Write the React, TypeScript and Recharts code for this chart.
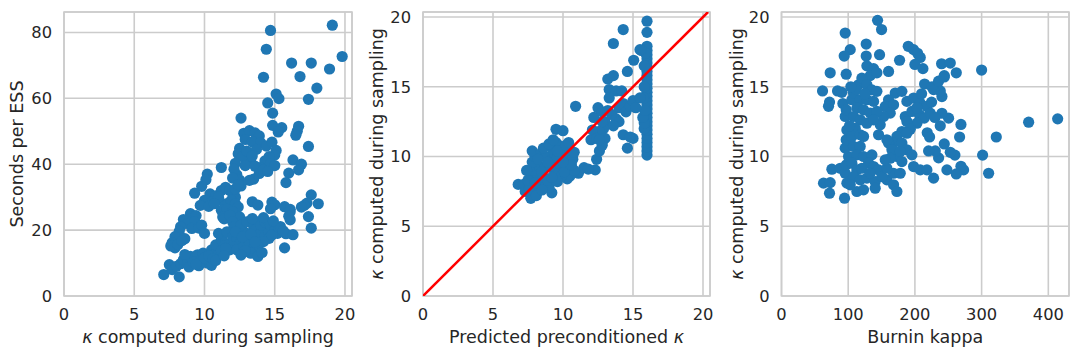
import React from 'react';
import { ScatterChart, Scatter, XAxis, YAxis, CartesianGrid, ReferenceArea, Label } from 'recharts';

// [kappa computed during sampling, seconds per ESS]
const secondsPerEss: [number, number][] = [
  [14.7, 80.6], [19.1, 82.2], [14.4, 74.9], [19.8, 72.7], [16.2, 70.7], [17.6, 70.7], [18.9, 68.9], [14.2, 66.4],
  [16.8, 66.6], [18.0, 63.1], [17.4, 59.7], [15.1, 61.3], [15.3, 59.9], [14.5, 58.6], [14.85, 55.5], [14.85, 51.8],
  [15.5, 51.1], [15.25, 49.8], [12.6, 54], [16.7, 51.5], [16.6, 50], [16.5, 48.8], [17.4, 45.4], [16.3, 41.3],
  [16.9, 40], [16.7, 38.3], [16.0, 37.3], [15.8, 34.4],
  [12.8, 49.4], [13.2, 50.2], [13.6, 49.5], [13.9, 48.6], [12.9, 47.5], [13.4, 46.8], [14.0, 46.5], [14.4, 45.5],
  [14.8, 46.7], [15.1, 44.2], [15.0, 42.8], [14.6, 42.3], [14.3, 41], [14.0, 39], [14.7, 40.2], [15.0, 39.6],
  [13.3, 40.5], [13.0, 41.8], [12.5, 44.8], [12.4, 43.2], [12.7, 42.3], [12.2, 40.3], [12.9, 39.6], [13.6, 39.4],
  [13.9, 37.2], [13.5, 35.5], [13.2, 35.1], [12.3, 36.8], [12.5, 35.2], [12.6, 33.4], [14.2, 38.2], [14.5, 37.8],
  [13.0, 44], [13.7, 44.5], [12.1, 38.5], [12.0, 35.8], [13.4, 42.5],
  [11.2, 39], [10.2, 37], [10.1, 35.3], [9.8, 33.3], [9.3, 31.2],
  [10.4, 31], [10.8, 30.4], [11.2, 32], [11.5, 33], [11.8, 32], [12.0, 31.4], [12.2, 30], [10.0, 29],
  [10.5, 28.5], [11.0, 29.2], [11.5, 28], [11.9, 29], [12.2, 28], [12.4, 27], [9.7, 27.5], [10.3, 27.2],
  [11.2, 26], [11.6, 26.3], [12.0, 25.6], [11.3, 24], [11.4, 23.4], [12.5, 24], [11.8, 24.5], [11.0, 30],
  [10.7, 28], [12.2, 32.5], [12.4, 33.8], [12.0, 22.5], [12.1, 21],
  [9.0, 25], [9.4, 24.4], [8.5, 23.2], [8.8, 22], [9.3, 22.6], [9.1, 20.5], [9.6, 20.6], [10.0, 19],
  [8.3, 21], [8.2, 19.6], [7.9, 18], [7.7, 16.2], [7.6, 15.2], [7.9, 14.6], [8.1, 15.6], [8.6, 17.4],
  [8.4, 16.8], [9.8, 21.5],
  [7.1, 6.5], [7.5, 9.5], [8.2, 5.8], [7.7, 8], [8.0, 9], [8.3, 9.8], [8.5, 11], [8.8, 10],
  [9.0, 12], [9.3, 11.5], [9.5, 12.5], [9.8, 11], [10.2, 10], [10.5, 9.3], [9.6, 9.2], [9.9, 13],
  [10.5, 14], [10.8, 13], [11.0, 12.5], [10.8, 15.5], [11.2, 17], [11.5, 16], [11.3, 18.5], [11.0, 19],
  [11.6, 19.5], [12.0, 18], [12.3, 17], [12.5, 16], [12.0, 15], [11.8, 14], [12.3, 14], [12.8, 15],
  [13.0, 13.5], [13.2, 16], [13.5, 17.5], [12.7, 20], [13.0, 19], [12.6, 21.5], [13.0, 22.5], [13.5, 21],
  [13.8, 22.5], [13.6, 20], [14.0, 19], [14.3, 18], [14.5, 20], [14.0, 21.5], [14.3, 22.5], [14.7, 21.5],
  [15.0, 20], [15.2, 19], [14.6, 17.5], [14.2, 16.5], [13.8, 15], [13.5, 14.5], [13.3, 13], [13.8, 12],
  [14.1, 13.2], [12.9, 13.8], [8.9, 8.8], [9.2, 10.3], [10.0, 11.5], [10.3, 12.2], [10.6, 11.3], [11.2, 13.8],
  [11.5, 14.5], [12.2, 19.5], [12.7, 18], [13.3, 18.7], [14.8, 18.5], [15.3, 20.8], [14.2, 23.8], [13.4, 23.5],
  [13.4, 28.6], [13.8, 27.6], [14.8, 28.5], [15.0, 27.7], [14.7, 26.5], [15.7, 27.1], [16.1, 26.3], [16.1, 25.6],
  [16.1, 23.1], [16.0, 24.2], [15.8, 18.9], [16.3, 18.6], [15.4, 21.1], [15.7, 14.6], [17.6, 30.7], [17.3, 28.2],
  [17.1, 27.5], [16.9, 27], [18.1, 28], [17.4, 24.1], [17.6, 20.6],
  [9.4, 9.6], [10.8, 10.8], [11.4, 12.2], [12.6, 12.4], [13.6, 16.4], [14.9, 22.8], [15.6, 19.8], [8.6, 12.6],
];

// [predicted preconditioned kappa, kappa computed during sampling]
const predictedKappa: [number, number][] = [
  [16, 10.1], [16, 10.4], [16, 10.7], [16, 11.0], [16, 11.3], [16, 11.6], [16, 11.9], [16, 12.2],
  [16, 12.5], [16, 12.8], [16, 13.1], [16, 13.4], [16, 13.7], [16, 14.0], [16, 14.3], [16, 14.6],
  [16, 14.9], [16, 15.2], [16, 15.5], [16, 15.8], [16, 16.1], [16, 16.4], [16, 16.7], [16, 17.0],
  [16, 17.3], [16, 17.6], [16, 17.9], [16, 18.9], [16, 19.7],
  [15.8, 12.0], [15.8, 12.4], [15.7, 12.8], [15.85, 13.3], [15.8, 15.0], [15.8, 16.5], [15.9, 17.4], [15.6, 17.6],
  [15.75, 14.2],
  [14.3, 19.1], [13.6, 18.1], [15.05, 16.9], [14.6, 16.1], [15.5, 17.66], [13.2, 15.55], [13.6, 15.8], [13.3, 14.8],
  [13.8, 14.7], [14.2, 14.7], [10.9, 13.6], [9.5, 11.95], [10.0, 11.85],
  [12.2, 12.8], [12.5, 13.5], [12.8, 13.2], [13.0, 12.5], [13.2, 13.3], [13.5, 13.0], [13.8, 12.7], [14.0, 13.5],
  [14.3, 13.8], [14.5, 13.2], [14.8, 13.6], [15.0, 14.0], [15.2, 13.5], [15.5, 14.2], [14.0, 12.5], [13.6, 12.2],
  [12.9, 12.0], [12.6, 11.8], [12.1, 11.9], [12.0, 11.2], [12.4, 11.3], [12.8, 11.0], [13.0, 11.3], [14.3, 11.56],
  [15.0, 11.3], [14.6, 10.6], [14.8, 11.4], [12.3, 9.04], [12.4, 9.8], [12.6, 10.4], [12.8, 10.8], [12.6, 11.2],
  [11.1, 8.8], [11.5, 9.2], [11.8, 9.1], [10.5, 8.6], [10.3, 8.4], [10.8, 9.0], [13.3, 14.2], [12.8, 12.5],
  [6.8, 8.0], [7.2, 8.0], [7.3, 7.5], [7.7, 7.0], [7.6, 7.7], [8.0, 7.5], [8.3, 7.8], [8.8, 8.0],
  [9.2, 7.4], [9.0, 7.8], [7.8, 8.5], [8.2, 8.6], [8.6, 8.5], [7.9, 9.0], [8.3, 9.3], [8.7, 9.2],
  [7.8, 9.6], [8.0, 10.0], [7.8, 10.4], [8.4, 10.2], [8.8, 10.0], [9.2, 9.8], [9.5, 9.5], [9.3, 10.5],
  [9.5, 11.0], [9.7, 10.8], [10.0, 10.5], [10.2, 10.0], [10.5, 10.3], [10.3, 9.6], [9.8, 9.2], [9.4, 8.8],
  [9.9, 8.6], [8.5, 8.9], [9.1, 9.3], [10.7, 9.8], [10.8, 10.3], [8.1, 7.2], [7.5, 8.3], [8.9, 8.3],
  [9.4, 10.2], [9.9, 10.0], [10.1, 8.9], [8.6, 10.6], [9.0, 10.9], [9.6, 9.9], [9.3, 11.2],
  [8.2, 9.8], [8.9, 9.6], [9.6, 10.4], [10.2, 10.8], [10.4, 11.0], [8.5, 7.6], [9.6, 8.2], [10.6, 9.4],
  [7.4, 9.0], [8.0, 8.1], [9.2, 8.5], [10.0, 9.6],
];

// [burnin kappa, kappa computed during sampling]
const burninKappa: [number, number][] = [
  [144, 19.76], [150, 19.1], [95.5, 18.85], [127, 18.06], [103, 17.66], [94, 17.2], [127, 17.2], [147, 17.3],
  [177, 16.9], [190, 17.9], [198, 17.66], [204, 17.4], [208, 17.1], [200, 16.6], [212, 16.3], [240, 16.65],
  [253, 16.7], [244, 15.8], [262, 16.0], [300, 16.2], [73, 16.0], [97, 15.9], [160.5, 16.1], [128, 16.5],
  [138, 16.3], [133, 15.8], [143, 16.0], [61.5, 14.7], [70.5, 13.6], [72, 13.9], [84, 14.7], [90.5, 14.6],
  [92, 13.8], [322, 11.4], [301.5, 10.1], [310.5, 8.8], [370.5, 12.46], [414, 12.7], [273, 9.04], [269, 9.3],
  [262, 8.75], [248, 9.04], [228, 8.45], [269, 12.3], [267, 11.4], [260, 10.1], [253, 10.3], [244, 10.9],
  [235.5, 9.9], [230.5, 10.4], [220.5, 10.4], [250.5, 12.75], [240.5, 13.1], [238, 12.2], [240.5, 14.3], [238, 14.7],
  [228, 14.8], [214.5, 15.2], [225.5, 15.0], [235.5, 15.4], [244, 15.7], [218.5, 11.7], [222, 11.4],
  [188, 13.95], [198, 14.19], [208, 13.83], [218, 13.59], [185.5, 12.87], [195.5, 13.23], [207, 12.99], [214, 12.75],
  [223, 13.11], [203, 12.39], [188, 12.51], [193, 11.96], [180.5, 11.79], [173, 11.44], [168, 10.96], [180.5, 10.96],
  [188, 10.48], [195.5, 10.12], [173, 10.0], [180.5, 9.64], [198, 9.28], [208, 9.04], [218, 9.04], [188, 11.67],
  [160.5, 10.96], [158, 11.2], [165.5, 10.48], [163, 9.88], [178, 10.36], [170.5, 14.55], [180.5, 14.67], [160.5, 14.07],
  [155.5, 13.59], [168, 13.71], [163, 13.11], [153, 12.87], [148, 12.27], [145.5, 11.56], [158, 8.33], [168, 7.97],
  [173, 7.49], [168, 8.8], [178, 8.8], [210, 14.5], [203, 13.5], [230, 12.8], [225, 13.9],
  [63, 8.09], [73, 8.13], [72, 7.37], [75.5, 9.09], [88, 9.16], [95.5, 8.8], [94.5, 7.01], [98, 8.09],
  [97, 9.4], [100.5, 10.0], [95.5, 10.6], [97, 11.2], [98, 11.9], [95.5, 12.87], [97, 13.35], [105.5, 14.07],
  [108, 14.55], [115.5, 15.14], [120.5, 15.62], [128, 15.14], [135.5, 14.78], [143, 14.67], [118, 14.07], [128, 14.07],
  [138, 13.95], [113, 13.47], [123, 13.35], [133, 13.11], [143, 13.23], [108, 12.87], [118, 12.63], [128, 12.39],
  [138, 12.63], [110.5, 12.03], [105.5, 11.44], [118, 11.56], [123, 11.44], [108, 10.72], [118, 10.72], [113, 10.12],
  [123, 10.0], [135.5, 10.12], [130.5, 9.52], [105.5, 9.52], [113, 9.04], [120.5, 9.16], [138, 9.28], [145.5, 9.04],
  [108, 8.56], [118, 8.33], [128, 8.45], [140.5, 8.21], [150.5, 8.56], [113, 7.49], [123, 7.61], [140.5, 7.73],
  [103, 7.97], [133, 8.8], [158, 9.16], [155.5, 9.76], [102, 12.2], [112, 14.8], [125, 14.5], [104, 15.0],
];

const kappaTicks = [0, 5, 10, 15, 20];
const essTicks = [0, 20, 40, 60, 80];
const burninTicks = [0, 100, 200, 300, 400];
// y = x reference line, drawn up to the top of the axes
const identityLine = [0, 20.36];

const FONT = '"DejaVu Sans", sans-serif';
const TEXT = '#262626';
const GRID = '#cccccc';
const BLUE = '#1f77b4';
const TICK_SIZE = 16.3;
const LABEL_SIZE = 17.5;

const toPoints = (rows: [number, number][]) => rows.map(([x, y]) => ({ x, y }));

const Kappa = () => <tspan fontStyle="italic">κ</tspan>;

const dot = (props: any) => <circle cx={props.cx} cy={props.cy} r={5.6} fill={BLUE} />;
const noDot = () => <g />;

interface PanelProps {
  rows: [number, number][];
  left: number;
  yAxisWidth: number;
  marginRight: number;
  xDomain: [number, number];
  yDomain: [number, number];
  xTicks: number[];
  yTicks: number[];
  xLabel: React.ReactNode;
  yLabel: React.ReactNode;
  identity?: boolean;
}

const Panel = ({ rows, left, yAxisWidth, marginRight, xDomain, yDomain, xTicks, yTicks, xLabel, yLabel, identity }: PanelProps) => {
  const tickStyle = { fill: TEXT, fontSize: TICK_SIZE, fontFamily: FONT };
  return (
    <div style={{ position: 'absolute', left, top: 0 }}>
      <ScatterChart width={360} height={360} margin={{ top: 12, right: marginRight, bottom: 0, left: 0 }}>
        <CartesianGrid stroke={GRID} strokeWidth={1.6} />
        <XAxis
          type="number"
          dataKey="x"
          domain={xDomain}
          ticks={xTicks}
          allowDataOverflow
          height={64}
          tickLine={false}
          axisLine={false}
          tickSize={0}
          tickMargin={12.5}
          tick={tickStyle}
        >
          <Label
            content={({ viewBox }: any) => (
              <text
                x={viewBox.x + viewBox.width / 2}
                y={viewBox.y + 47}
                textAnchor="middle"
                fill={TEXT}
                fontSize={LABEL_SIZE}
                fontFamily={FONT}
              >
                {xLabel}
              </text>
            )}
          />
        </XAxis>
        <YAxis
          type="number"
          dataKey="y"
          domain={yDomain}
          ticks={yTicks}
          allowDataOverflow
          width={yAxisWidth}
          tickLine={false}
          axisLine={false}
          tickSize={0}
          tickMargin={12}
          tick={tickStyle}
        >
          <Label
            content={({ viewBox }: any) => {
              const cx = viewBox.x + 23;
              const cy = viewBox.y + viewBox.height / 2;
              return (
                <text
                  x={cx}
                  y={cy}
                  transform={`rotate(-90, ${cx}, ${cy})`}
                  textAnchor="middle"
                  fill={TEXT}
                  fontSize={LABEL_SIZE}
                  fontFamily={FONT}
                >
                  {yLabel}
                </text>
              );
            }}
          />
        </YAxis>
        <Scatter data={toPoints(rows)} shape={dot} isAnimationActive={false} />
        {identity && (
          <Scatter
            data={identityLine.map((v) => ({ x: v, y: v }))}
            shape={noDot}
            line={{ stroke: '#ff0000', strokeWidth: 2.5 }}
            isAnimationActive={false}
          />
        )}
        <ReferenceArea
          x1={xDomain[0]}
          x2={xDomain[1]}
          y1={yDomain[0]}
          y2={yDomain[1]}
          fill="none"
          fillOpacity={0}
          stroke={GRID}
          strokeWidth={1.6}
          ifOverflow="visible"
        />
      </ScatterChart>
    </div>
  );
};

export default function App() {
  return (
    <div style={{ position: 'absolute', left: 0, top: 0, width: 1080, height: 360, background: '#ffffff' }}>
      <Panel
        rows={secondsPerEss}
        left={0}
        yAxisWidth={64}
        marginRight={8}
        xDomain={[0, 20.5]}
        yDomain={[0, 86.2]}
        xTicks={kappaTicks}
        yTicks={essTicks}
        xLabel={<><Kappa /> computed during sampling</>}
        yLabel="Seconds per ESS"
      />
      <Panel
        rows={predictedKappa}
        left={360}
        yAxisWidth={63}
        marginRight={10}
        xDomain={[0, 20.5]}
        yDomain={[0, 20.36]}
        xTicks={kappaTicks}
        yTicks={kappaTicks}
        xLabel={<>Predicted preconditioned <Kappa /></>}
        yLabel={<><Kappa /> computed during sampling</>}
        identity
      />
      <Panel
        rows={burninKappa}
        left={720}
        yAxisWidth={61.5}
        marginRight={11}
        xDomain={[0, 431]}
        yDomain={[0, 20.36]}
        xTicks={burninTicks}
        yTicks={kappaTicks}
        xLabel="Burnin kappa"
        yLabel={<><Kappa /> computed during sampling</>}
      />
    </div>
  );
}
